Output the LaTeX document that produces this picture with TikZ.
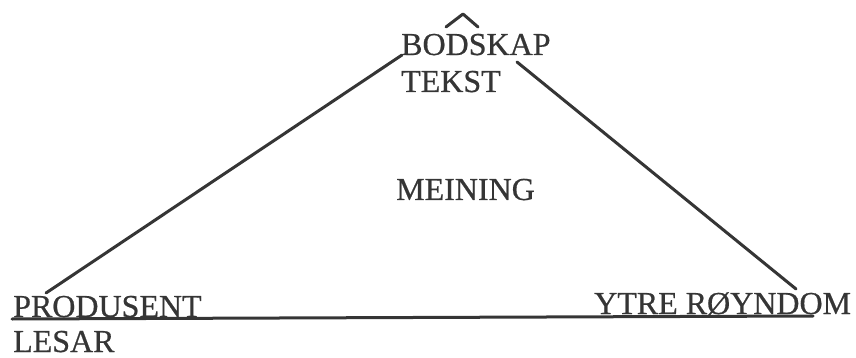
\documentclass[tikz,border=0pt]{standalone}
\usepackage{fontspec}
\setmainfont{Liberation Serif}[FakeBold=0.6]
\definecolor{ink}{HTML}{353535}
\begin{document}
\begin{tikzpicture}[x=1pt,y=-1pt,
  lbl/.style={anchor=base west,inner sep=0pt,text=ink,font=\fontsize{32}{32}\selectfont},
  stroke/.style={draw=ink,line width=3pt,line cap=round}]
\useasboundingbox (0,0) rectangle (856,358);
\node[lbl] (bod) at (401,55) {BODSKAP};
\node[lbl] (tek) at (401,92) {TEKST};
\node[lbl] (mei) at (396,200) {MEINING};
\node[lbl] (pro) at (13,317) {PRODUSENT};
\node[lbl] (les) at (13,352) {LESAR};
\node[lbl] (ytr) at (594,314) {YTRE RØYNDOM};
\coordinate (l1) at (46,293);
\coordinate (l2) at (402,55);
\coordinate (r1) at (517,62);
\coordinate (r2) at (796,289);
\coordinate (b1) at (12,319);
\coordinate (b2) at (813,316);
\coordinate (c1) at (446,27);
\coordinate (c2) at (463,14);
\coordinate (c3) at (478,27);
\draw[stroke] (l1) -- (l2);
\draw[stroke] (r1) -- (r2);
\draw[stroke] (b1) -- (b2);
\draw[stroke,line join=round] (c1) -- (c2) -- (c3);
\end{tikzpicture}
\end{document}
